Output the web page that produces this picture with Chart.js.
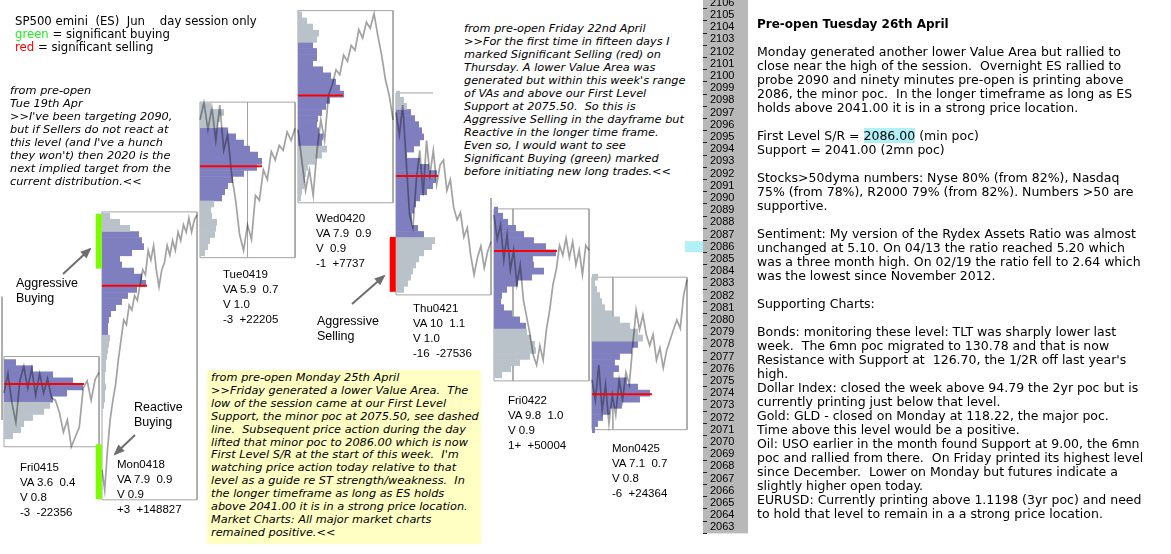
<!DOCTYPE html>
<html><head><meta charset="utf-8"><title>SP500 emini day sessions</title>
<script src="https://cdn.jsdelivr.net/npm/chart.js@4.4.1/dist/chart.umd.min.js"></script>
<style>
html,body{margin:0;padding:0;background:#fff;}
#wrap{position:relative;width:1171px;height:554px;overflow:hidden;background:#fff;}
#c{position:absolute;left:0;top:0;}
.blk{position:absolute;white-space:pre;color:#000;margin:0;}
.it{font-family:"DejaVu Sans",Verdana,sans-serif;font-style:italic;font-size:11.3px;line-height:13px;}
.lg{font-family:"DejaVu Sans",Verdana,sans-serif;font-size:11.7px;line-height:13px;}
.lab{font-family:"Liberation Sans",Arial,sans-serif;font-size:11.5px;line-height:15px;}
.ann{font-family:"Liberation Sans",Arial,sans-serif;font-size:12.5px;line-height:15px;}
.rp{font-family:"DejaVu Sans",Verdana,sans-serif;font-size:12.5px;line-height:14px;}
.rt{font-family:"DejaVu Sans",Verdana,sans-serif;font-size:12px;line-height:14px;font-weight:bold;}
.hl{background:#b0f0f6;}
</style></head>
<body><div id="wrap"><canvas id="c" width="1171" height="554"></canvas></div>
<script>
// ---------------- data ----------------
const days = ['Fri0415','Mon0418','Tue0419','Wed0420','Thu0421','Fri0422','Mon0425'];
const dayHigh = [2077.0, 2088.85, 2097.85, 2105.35, 2098.6, 2089.1, 2083.5];
const dayLow  = [2069.6, 2065.25, 2085.1, 2089.6, 2082.05, 2075.0, 2071.0];
const pocPrice  = [2074.75, 2082.8, 2092.6, 2098.4, 2091.8, 2085.65, 2073.9];
const pocVolume = [80, 45, 62, 45, 42, 63, 60];
const valueAreaHigh = [2076.5, 2087.0, 2095.5, 2102.5, 2097.0, 2089.0, 2078.0];
const valueAreaLow  = [2073.5, 2079.0, 2090.0, 2094.5, 2087.0, 2079.5, 2071.0];
const profileTop = [2076.5, 2088.5, 2097.5, 2105.0, 2098.5, 2089.0, 2083.5];   // first level, then 0.5 steps down
const profileFri0415 = [12,29,49,69,79,63,49,46,40,29,20,17,9];
const profileMon0418 = [8,18,28,37,40,42,30,18,20,32,40,44,35,26,20,14,9,7,6,6,8,7,6,5,4,4,3,3,4,3,3,2];
const profileTue0419 = [11,24,20,18,28,36,44,50,58,62,57,44,33,28,25,22,14,11,12,17,16,15,10,8,5];
const profileWed0420 = [4,9,15,21,19,15,19,19,15,25,33,38,42,46,32,28,24,20,19,21,25,24,29,24,17,10,8,7,6,4,3];
const profileThu0421 = [4,8,11,15,19,23,26,28,24,18,11,24,33,41,40,37,31,24,20,18,16,16,22,28,39,36,28,23,20,17,15,12,8];
const profileFri0422 = [4,9,14,22,30,40,52,62,39,40,50,38,24,13,8,7,10,18,26,32,33,37,41,42,36,26,17,8];
const profileMon0425 = [6,3,5,8,10,13,20,28,38,46,51,46,40,28,23,27,21,35,46,58,48,30,18,11,6,3];
const profiles = [profileFri0415, profileMon0418, profileTue0419, profileWed0420, profileThu0421, profileFri0422, profileMon0425];
// intraday price traces (evenly spaced through each session)
const traceFri0415 = [2074.0,2075.6,2073.2,2071.6,2075.0,2076.2,2074.4,2076.0,2073.8,2075.6,2074.0,2075.2,2073.6,2073.4,2072.4,2070.8,2071.8,2069.6,2070.4,2071.2,2074.4,2075.0,2073.4,2075.1,2075.7];
const traceMon0418 = [2067.7,2066.05,2069.3,2071.8,2073.4,2074.7,2076.7,2078.35,2080.0,2079.6,2081.2,2080.8,2082.0,2081.6,2082.85,2084.1,2083.7,2085.7,2084.9,2086.1,2084.1,2082.7,2084.1,2084.7,2086.1,2085.3,2086.5,2085.7,2087.2,2086.5,2087.8,2087.2,2088.35,2087.2,2088.2,2088.6];
const traceTue0419 = [2096.4,2097.8,2095.6,2097.4,2094.7,2097.6,2093.9,2095.2,2091.9,2089.8,2087.0,2085.7,2087.8,2086.6,2090.2,2089.8,2092.3,2091.5,2093.8,2093.1,2094.3,2093.9,2095.4,2094.7,2095.7];
const traceWed0420 = [2095.6,2093.1,2090.6,2092.3,2090.2,2093.9,2096.4,2094.7,2098.4,2099.25,2100.5,2100.1,2101.7,2101.2,2102.5,2102.1,2103.8,2103.1,2104.4,2103.9,2105.1,2103.3,2101.7,2099.7,2098.4,2096.4];
const traceThu0421 = [2097.0,2095.15,2097.6,2093.1,2088.6,2087.55,2091.5,2093.9,2090.2,2094.7,2091.9,2093.9,2091.1,2092.7,2093.1,2090.6,2091.5,2089.2,2088.2,2088.8,2086.8,2087.55,2085.3,2083.7,2085.1,2086.05,2084.25,2085.6,2086.4];
const traceFri0422 = [2088.6,2086.6,2087.8,2084.9,2087.0,2084.1,2085.7,2082.9,2084.5,2081.6,2080.2,2078.8,2077.1,2076.3,2077.9,2076.7,2079.2,2080.8,2082.9,2084.1,2086.1,2085.3,2086.7,2085.1,2086.4,2084.5,2085.7,2083.7,2086.1,2085.7];
const traceMon0425 = [2075.1,2073.4,2076.3,2072.6,2074.7,2071.5,2073.85,2072.2,2075.1,2073.4,2075.7,2074.7,2077.9,2080.8,2079.2,2080.4,2078.8,2077.9,2078.8,2076.7,2077.7,2076.05,2077.5,2078.35,2079.2,2080.0,2079.3,2082.0,2083.3];
const traces = [traceFri0415, traceMon0418, traceTue0419, traceWed0420, traceThu0421, traceFri0422, traceMon0425];
// significant buying / selling marks
const signalDay   = [1, 1, 4];
const signalLow   = [2084.2, 2065.3, 2082.3];
const signalHigh  = [2088.7, 2069.8, 2086.8];
const signalKind  = ['buy', 'buy', 'sell'];
const firstLevelSR = 2086.00;
const priceTicks = [2063,2064,2065,2066,2067,2068,2069,2070,2071,2072,2073,2074,2075,2076,2077,2078,2079,2080,2081,2082,2083,2084,2085,2086,2087,2088,2089,2090,2091,2092,2093,2094,2095,2096,2097,2098,2099,2100,2101,2102,2103,2104,2105,2106];
// day statistics shown under each session
const vaRange  = ['3.6','7.9','5.9','7.9','10','9.8','7.1'];
const vaRatio  = ['0.4','0.9','0.7','0.9','1.1','1.0','0.7'];
const volRatio = ['0.8','0.9','1.0',' 0.9','1.0','0.9','0.8'];
const deltaTicks = ['-3','+3','-3','-1','-16','1+','-6'];
const deltaVol   = ['-22356','+148827','+22205','+7737','-27536','+50004','+24364'];

// ---------------- layout / style ----------------
const W = 1171, H = 554;
const BOXW = 0.97, VOL_PER_SLOT = 98, STEP = 0.5;
const X_MIN = -0.0408, X_MAX = 7.133, Y_MIN = 2060.81, Y_MAX = 2106.22;
const LEVEL_PX = H / (Y_MAX - Y_MIN) * STEP;   // pixel height of one profile level
const C_VA = '#7f7fc0', C_OUT = '#b9c1c9', C_TRACE = '#a2a2a2', C_BOX = '#a4a4a4';

const ds = [];
days.forEach((d, i) => {
  ds.push({type:'line', order:7, data:[{x:i,y:dayHigh[i]},{x:i+BOXW,y:dayHigh[i]},{x:i+BOXW,y:dayLow[i]},{x:i,y:dayLow[i]},{x:i,y:dayHigh[i]}],
    borderColor:C_BOX, borderWidth:1, pointRadius:0, fill:false});
});
const dividerFrac = [null, null, 0.50, null, null, 0.20, 0.22];
dividerFrac.forEach((f, i) => { if (f === null) return;
  ds.push({type:'line', order:7, data:[{x:i+f*BOXW,y:dayHigh[i]},{x:i+f*BOXW,y:dayLow[i]}], borderColor:C_BOX, borderWidth:1, pointRadius:0});
});
// prior session edge at far left
ds.push({type:'line', order:7, data:[{x:-0.02,y:2081.9},{x:-0.02,y:2071.8}], borderColor:C_BOX, borderWidth:1, pointRadius:0});

const vaBars = [], outBars = [];
profiles.forEach((vols, i) => {
  vols.forEach((v, k) => {
    const p = profileTop[i] - k * STEP;
    const item = {x:[i, i + v / VOL_PER_SLOT], y:p};
    (p <= valueAreaHigh[i] && p >= valueAreaLow[i] ? vaBars : outBars).push(item);
  });
});
const barStyle = {type:'bar', indexAxis:'y', order:6, grouped:false, barThickness: LEVEL_PX + 0.6, borderWidth:0, inflateAmount:0};
ds.push(Object.assign({data:outBars, backgroundColor:C_OUT}, barStyle));
ds.push(Object.assign({data:vaBars, backgroundColor:C_VA}, barStyle));

const traceIdx = new Set();
traces.forEach((tr, i) => {
  traceIdx.add(ds.length);
  ds.push({type:'line', order:5, data: tr.map((p, k) => ({x: i + BOXW * k / (tr.length - 1), y: p})),
    borderColor:C_TRACE, borderWidth:1.7, pointRadius:0, fill:false, tension:0});
});
pocPrice.forEach((p, i) => {
  ds.push({type:'line', order:3, data:[{x:i,y:p},{x:i+pocVolume[i]/VOL_PER_SLOT,y:p}], borderColor:'#ff0000', borderWidth:2, pointRadius:0});
});
signalDay.forEach((d, j) => {
  ds.push({type:'line', order:2, data:[{x:d-0.033,y:signalLow[j]},{x:d-0.033,y:signalHigh[j]}],
    borderColor: signalKind[j] === 'buy' ? '#7cfc00' : '#ff0000', borderWidth:6, borderCapStyle:'butt', pointRadius:0});
});
ds.push({type:'line', order:2, data:[{x:days.length-0.05,y:firstLevelSR},{x:X_MAX,y:firstLevelSR}], borderColor:'#b0f0f6', borderWidth:11, borderCapStyle:'butt', pointRadius:0});

const bgPlugin = {id:'bg', beforeDraw(chart){ const c = chart.ctx; c.save(); c.fillStyle = '#fff'; c.fillRect(0,0,chart.width,chart.height);
  const ys = chart.scales.y; c.fillStyle = '#b8b8b8'; c.fillRect(ys.left, 0, ys.right - ys.left, ys.getPixelForValue(2062.5)); c.restore(); }};
const blendPlugin = {id:'blend',
  beforeDatasetDraw(chart, args){ if (traceIdx.has(args.index)) { chart.ctx.save(); chart.ctx.globalCompositeOperation = 'multiply'; } },
  afterDatasetDraw(chart, args){ if (traceIdx.has(args.index)) chart.ctx.restore(); }};
function arrow(c, x1, y1, x2, y2){
  c.strokeStyle = '#6e6e6e'; c.fillStyle = '#6e6e6e'; c.lineWidth = 2;
  c.beginPath(); c.moveTo(x1,y1); c.lineTo(x2,y2); c.stroke();
  const a = Math.atan2(y2-y1, x2-x1), L = 9, Wd = 4.5;
  c.beginPath(); c.moveTo(x2 + Math.cos(a)*2, y2 + Math.sin(a)*2);
  c.lineTo(x2 - L*Math.cos(a) + Wd*Math.sin(a), y2 - L*Math.sin(a) - Wd*Math.cos(a));
  c.lineTo(x2 - L*Math.cos(a) - Wd*Math.sin(a), y2 - L*Math.sin(a) + Wd*Math.cos(a));
  c.closePath(); c.fill();
}
const arrowPlugin = {id:'arrows', afterDraw(chart){ const c = chart.ctx; c.save();
  arrow(c, 63, 274, 90, 249); arrow(c, 135, 435, 115, 454); arrow(c, 352, 304, 384, 276); c.restore(); }};

new Chart(document.getElementById('c'), {
  type:'line',
  data:{datasets:ds},
  options:{responsive:false, animation:false, events:[],
    layout:{padding:{left:0, right:423, top:0, bottom:0}},
    plugins:{legend:{display:false}, tooltip:{enabled:false}},
    scales:{
      x:{type:'linear', min:X_MIN, max:X_MAX, display:false, offset:false},
      y:{type:'linear', position:'right', min:Y_MIN, max:Y_MAX, offset:false,
        afterBuildTicks: s => { s.ticks = priceTicks.map(v => ({value:v})); },
        afterFit: s => { s.width = 45; s.paddingTop = 0; s.paddingBottom = 0; },
        grid:{drawOnChartArea:false, drawTicks:true, tickLength:4, tickColor:'#222', tickWidth:1},
        border:{display:false},
        ticks:{autoSkip:false, padding:3, color:'#000', font:{family:'"Liberation Sans", Arial, sans-serif', size:11}, callback: v => String(v)}
      }
    }
  },
  plugins:[bgPlugin, blendPlugin, arrowPlugin]
});

// ---------------- text ----------------
const wrap = document.getElementById('wrap');
function addText(cls, left, top, html, extra){ const d = document.createElement('div'); d.className = 'blk ' + cls; d.style.left = left + 'px'; d.style.top = top + 'px'; if (extra) Object.assign(d.style, extra); d.innerHTML = html; wrap.appendChild(d); return d; }
addText('lg', 15, 14.5, 'SP500 emini  (ES)  Jun    day session only\n<span style="color:#22ee22">green</span> = significant buying\n<span style="color:#ff0000">red</span> = significant selling');
addText('it', 10, 83.5, "from pre-open\nTue 19th Apr\n&gt;&gt;I've been targeting 2090,\nbut if Sellers do not react at\nthis level (and I've a hunch\nthey won't) then 2020 is the\nnext implied target from the\ncurrent distribution.&lt;&lt;");
addText('', 433, 0, '', {width:'267px', height:'122px', background:'#fff'});
addText('', 455, 122, '', {width:'245px', height:'76px', background:'#fff'});
addText('it', 464, 22, "from pre-open Friday 22nd April\n&gt;&gt;For the first time in fifteen days I\nmarked Significant Selling (red) on\nThursday. A lower Value Area was\ngenerated but within this week's range\nof VAs and above our First Level\nSupport at 2075.50.  So this is\nAggressive Selling in the dayframe but\nReactive in the longer time frame.\nEven so, I would want to see\nSignificant Buying (green) marked\nbefore initiating new long trades.&lt;&lt;");
addText('it', 207, 370, "from pre-open Monday 25th April\n&gt;&gt;Friday generated a lower Value Area.  The\nlow of the session came at our First Level\nSupport, the minor poc at 2075.50, see dashed\nline.  Subsequent price action during the day\nlifted that minor poc to 2086.00 which is now\nFirst Level S/R at the start of this week.  I'm\nwatching price action today relative to that\nlevel as a guide re ST strength/weakness.  In\nthe longer timeframe as long as ES holds\nabove 2041.00 it is in a strong price location.\nMarket Charts: All major market charts\nremained positive.&lt;&lt;", {width:'274px', height:'174px', background:'#ffffc4', padding:'2px 0 0 4px', boxSizing:'border-box', lineHeight:'12.9px'});
const labelPos = [[20,460],[117,456.5],[223,266.5],[316,211],[413,300.5],[508,392.5],[612,441]];
days.forEach((d, i) => {
  addText('lab', labelPos[i][0], labelPos[i][1], d + '\nVA ' + vaRange[i] + '  ' + vaRatio[i] + '\nV ' + volRatio[i] + '\n' + deltaTicks[i] + '  ' + deltaVol[i]);
});
addText('ann', 16, 275.5, 'Aggressive\nBuying');
addText('ann', 134, 399.5, 'Reactive\nBuying');
addText('ann', 317, 313.5, 'Aggressive\nSelling');
addText('rt', 757, 17, 'Pre-open Tuesday 26th April');
addText('rp', 757, 45, "Monday generated another lower Value Area but rallied to\nclose near the high of the session.  Overnight ES rallied to\nprobe 2090 and ninety minutes pre-open is printing above\n2086, the minor poc.  In the longer timeframe as long as ES\nholds above 2041.00 it is in a strong price location.\n\nFirst Level S/R = <span class=\"hl\">2086.00</span> (min poc)\nSupport = 2041.00 (2mn poc)\n\nStocks&gt;50dyma numbers: Nyse 80% (from 82%), Nasdaq\n75% (from 78%), R2000 79% (from 82%). Numbers &gt;50 are\nsupportive.\n\nSentiment: My version of the Rydex Assets Ratio was almost\nunchanged at 5.10. On 04/13 the ratio reached 5.20 which\nwas a three month high. On 02/19 the ratio fell to 2.64 which\nwas the lowest since November 2012.\n\nSupporting Charts:\n\nBonds: monitoring these level: TLT was sharply lower last\nweek.  The 6mn poc migrated to 130.78 and that is now\nResistance with Support at  126.70, the 1/2R off last year's\nhigh.\nDollar Index: closed the week above 94.79 the 2yr poc but is\ncurrently printing just below that level.\nGold: GLD - closed on Monday at 118.22, the major poc.\nTime above this level would be a positive.\nOil: USO earlier in the month found Support at 9.00, the 6mn\npoc and rallied from there.  On Friday printed its highest level\nsince December.  Lower on Monday but futures indicate a\nslightly higher open today.\nEURUSD: Currently printing above 1.1198 (3yr poc) and need\nto hold that level to remain in a a strong price location.");
</script></body></html>
